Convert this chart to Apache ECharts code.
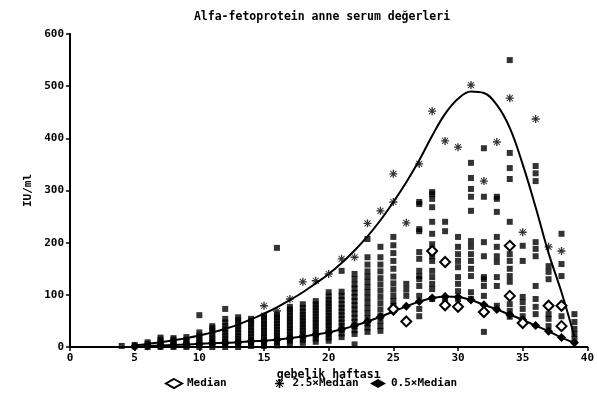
<!DOCTYPE html>
<html>
<head>
<meta charset="utf-8">
<script src="https://cdn.jsdelivr.net/npm/echarts@6/dist/echarts.min.js"></script>
<style>
  html, body { margin: 0; padding: 0; background: #fff; }
  #chart { width: 597px; height: 393px; }
</style>
</head>
<body>
<div id="chart"></div>
<script>
// eğri haftaları ve değerleri
const curveWeeks = [5, 6, 7, 8, 9, 10, 11, 12, 13, 14, 15, 16, 17, 18, 19, 20, 21, 22,
  23, 24, 25, 26, 27, 28, 29, 30, 31, 32, 33, 34, 35, 36, 37, 38, 39];
const upperCurve = [3, 6, 9, 13, 17, 22, 28, 35, 43, 53, 64, 76, 90, 105, 122, 140, 161, 185,
  212, 243, 278, 316, 358, 405, 447, 476, 490, 487, 464, 420, 350, 268, 180, 105, 20];
const lowerCurve = [1, 2, 3, 4, 5, 6, 7, 8, 9, 11, 12, 14, 17, 20, 24, 28, 34, 41,
  49, 58, 68, 78, 87, 94, 97, 96, 90, 81, 72, 62, 52, 41, 30, 18, 8];

// ölçüm noktaları (hafta başına)
const obsWeeks = [4, 5, 6, 7, 8, 9, 10, 11, 12, 13, 14, 15, 16, 17, 18, 19, 20, 21,
  22, 23, 24, 25, 26, 27, 28, 29, 30, 31, 32, 33, 34, 35, 36, 37, 38, 39];
const obsValues = [
  [2],
  [1, 4],
  [0, 3, 6, 9],
  [0, 3, 6, 10, 14, 18],
  [0, 3, 6, 10, 14, 17],
  [0, 3, 6, 10, 14, 19],
  [0, 4, 8, 12, 17, 22, 28, 61],
  [0, 4, 8, 13, 18, 24, 30, 36, 40],
  [0, 5, 10, 16, 22, 28, 34, 40, 47, 54, 73],
  [0, 5, 10, 16, 22, 28, 34, 40, 46, 52, 57],
  [2, 8, 14, 20, 26, 32, 38, 44, 50, 54],
  [2, 8, 14, 20, 26, 32, 38, 44, 50, 56, 60],
  [3, 9, 15, 21, 27, 33, 39, 45, 51, 57, 62, 190],
  [6, 12, 18, 24, 30, 36, 42, 48, 54, 60, 66, 72, 77],
  [8, 14, 20, 26, 32, 38, 44, 50, 56, 62, 68, 75, 82],
  [10, 16, 22, 28, 34, 40, 46, 52, 58, 64, 70, 76, 82, 88],
  [12, 18, 24, 30, 36, 42, 48, 54, 60, 66, 72, 78, 84, 90, 97, 105],
  [19, 26, 33, 40, 47, 54, 61, 68, 75, 82, 90, 98, 106, 146],
  [5, 25, 32, 40, 48, 56, 64, 72, 80, 88, 96, 104, 112, 120, 130, 140],
  [29, 37, 45, 55, 65, 75, 85, 95, 105, 115, 125, 135, 145, 158, 172, 207],
  [31, 40, 50, 60, 72, 84, 96, 108, 120, 132, 145, 158, 172, 192],
  [79, 88, 98, 110, 122, 135, 150, 165, 180, 195, 211],
  [98, 110, 121],
  [59, 73, 98, 117, 130, 136, 146, 169, 182, 222, 226, 274, 278],
  [92, 111, 121, 134, 146, 165, 174, 197, 217, 240, 268, 284, 293, 297],
  [92, 222, 240],
  [92, 107, 121, 134, 153, 165, 178, 192, 211],
  [92, 105, 136, 150, 165, 178, 192, 203, 261, 288, 303, 324, 353],
  [29, 98, 117, 130, 134, 174, 201, 288, 381],
  [79, 117, 134, 163, 174, 192, 211, 259, 284, 288],
  [58, 69, 82, 125, 136, 150, 165, 178, 240, 322, 343, 372, 550],
  [59, 73, 86, 96, 165, 194],
  [63, 77, 92, 117, 174, 188, 201, 318, 333, 347],
  [40, 54, 63, 130, 144, 155],
  [59, 136, 159, 217],
  [15, 25, 35, 48, 63]
];

// yıldız işaretli noktalar (2.5×Median)
const starPoints = [[15, 79], [16, 69], [17, 92], [18, 125], [19, 127], [20, 140], [21, 169],
  [22, 172], [23, 237], [24, 261], [25, 278], [25, 332], [26, 238], [27, 351], [28, 452],
  [29, 395], [30, 383], [31, 502], [32, 318], [33, 393], [34, 477], [35, 220], [36, 437],
  [37, 192], [38, 184]];

// boş baklava işaretli noktalar (Median)
const medianPoints = [[25, 73], [26, 49], [28, 184], [29, 163], [29, 80], [30, 77], [32, 67],
  [34, 194], [34, 98], [35, 46], [37, 79], [38, 79], [38, 40]];

const xTicks = { min: 0, max: 40, step: 5 };
const yTicks = { min: 0, max: 600, step: 100 };

const FONT = 'DejaVu Sans Mono';
const STAR = 'path://M5 0L7 0L7 12L5 12Z M0 5L12 5L12 7L0 7Z M1 2L2 1L11 10L10 11Z M10 1L11 2L2 11L1 10Z';

const obsData = [];
obsWeeks.forEach((w, i) => obsValues[i].forEach((v) => obsData.push([w, v])));

const chart = echarts.init(document.getElementById('chart'));

const legendBase = {
  top: 373,
  itemWidth: 16,
  itemHeight: 9,
  textStyle: { fontFamily: FONT, fontWeight: 'bold', fontSize: 11, color: '#000' },
  lineStyle: { color: '#000', width: 2, opacity: 1 },
  selectedMode: false,
};

chart.setOption({
  backgroundColor: '#fff',
  animation: false,
  title: {
    text: 'Alfa-fetoprotein anne serum değerleri',
    left: 317,
    textAlign: 'center',
    top: 6,
    textStyle: { fontFamily: FONT, fontWeight: 'bold', fontSize: 11.5, color: '#000' },
  },
  legend: [
    Object.assign({}, legendBase, { left: 160, data: [{ name: 'Median', icon: 'emptyDiamond' }] }),
    Object.assign({}, legendBase, { left: 270, data: [{ name: '2.5×Median', icon: STAR }] }),
    Object.assign({}, legendBase, { left: 365, data: [{ name: '0.5×Median', icon: 'diamond' }] }),
  ],
  grid: { left: 70, right: 9, top: 34, bottom: 46 },
  xAxis: {
    type: 'value',
    min: xTicks.min,
    max: xTicks.max,
    interval: xTicks.step,
    name: 'gebelik haftası',
    nameLocation: 'middle',
    nameGap: 15,
    nameTextStyle: { fontFamily: FONT, fontWeight: 'bold', fontSize: 11.5, color: '#000' },
    axisLine: { lineStyle: { color: '#000', width: 2 } },
    axisTick: { length: 4, lineStyle: { color: '#000', width: 1.5 } },
    axisLabel: { margin: 6, fontFamily: FONT, fontWeight: 'bold', fontSize: 11, color: '#000' },
    splitLine: { show: false },
  },
  yAxis: {
    type: 'value',
    min: yTicks.min,
    max: yTicks.max,
    interval: yTicks.step,
    name: 'IU/ml',
    nameLocation: 'middle',
    nameGap: 31,
    nameTextStyle: { fontFamily: FONT, fontWeight: 'bold', fontSize: 11, color: '#000' },
    axisLine: { show: true, lineStyle: { color: '#000', width: 2 } },
    axisTick: { show: true, length: 4, lineStyle: { color: '#000', width: 1.5 } },
    axisLabel: { margin: 6, fontFamily: FONT, fontWeight: 'bold', fontSize: 11, color: '#000' },
    splitLine: { show: false },
  },
  series: [
    {
      name: 'data',
      type: 'scatter',
      data: obsData,
      symbol: 'rect',
      symbolSize: 6,
      itemStyle: { color: '#000' },
      z: 2,
    },
    {
      name: '2.5×Median',
      type: 'line',
      data: curveWeeks.map((w, i) => [w, upperCurve[i]]),
      smooth: 0.4,
      symbol: 'none',
      lineStyle: { color: '#000', width: 2 },
      itemStyle: { color: '#000' },
      z: 3,
    },
    {
      name: '2.5×Median',
      type: 'scatter',
      data: starPoints,
      symbol: STAR,
      symbolSize: 8,
      itemStyle: { color: '#000' },
      z: 4,
    },
    {
      name: '0.5×Median',
      type: 'line',
      data: curveWeeks.map((w, i) => [w, lowerCurve[i]]),
      smooth: 0.4,
      symbol: 'diamond',
      symbolSize: 9,
      showAllSymbol: true,
      lineStyle: { color: '#000', width: 2 },
      itemStyle: { color: '#000' },
      z: 3,
    },
    {
      name: 'Median',
      type: 'line',
      data: medianPoints,
      symbol: 'emptyDiamond',
      symbolSize: 10,
      showAllSymbol: true,
      lineStyle: { opacity: 0 },
      itemStyle: { color: '#000', borderColor: '#000', borderWidth: 2 },
      z: 5,
    },
  ],
});
</script>
</body>
</html>
